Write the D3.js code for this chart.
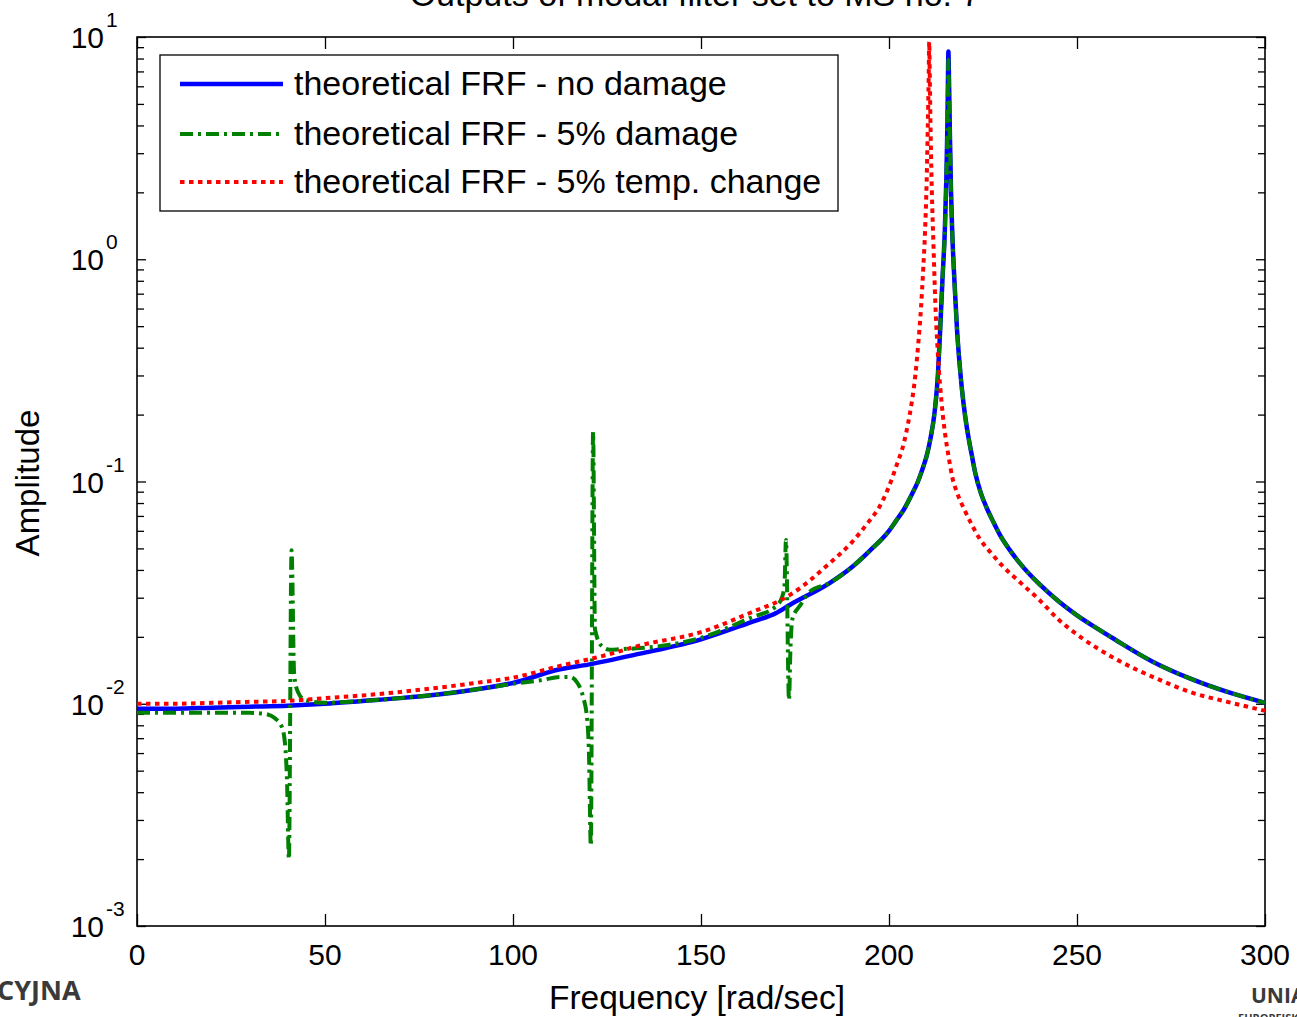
<!DOCTYPE html>
<html><head><meta charset="utf-8">
<script src="https://cdn.jsdelivr.net/npm/d3@7/dist/d3.min.js"></script>
<style>
html,body{margin:0;padding:0;background:#fff;}
svg{display:block;}
text{font-family:"Liberation Sans",Arial,sans-serif;fill:#000;}
</style></head>
<body>
<svg id="chart" width="1297" height="1017"></svg>
<script>
// ---- data ----
const titleText = "Outputs of modal filter set to MS no. 7";
const xLabelText = "Frequency [rad/sec]";
const yLabelText = "Amplitude";
const legendLabels = ["theoretical FRF - no damage", "theoretical FRF - 5% damage", "theoretical FRF - 5% temp. change"];
const xTickValues = [0, 50, 100, 150, 200, 250, 300];
const yDecadeExponents = [-3, -2, -1, 0, 1];

const blueFreq = [0,10,20,30,40,50,60,70,80,90,100,112.5,120,133.8,150,163,170,173.7,184.3,190,195,200,202,204,206,207.7,209,210,211,212.2,213,213.6,214.2,214.85,215.25,215.55,215.7,215.8,215.95,216.2,216.5,216.8,217.4,218.1,218.7,219.4,220.2,221,222,222.9,224.5,226,227.7,229.5,232,235,240,245,250,255,260,270,280,290,300];
const blueAmp  = [0.0095,0.0095,0.0096,0.0097,0.0098,0.0100,0.0103,0.0106,0.0110,0.0116,0.0124,0.0143,0.0150,0.0168,0.0195,0.0232,0.0256,0.0279,0.0350,0.041,0.049,0.060,0.067,0.075,0.087,0.100,0.115,0.130,0.155,0.21,0.30,0.48,0.80,1.35,2.3,4.2,6.8,8.6,6.5,3.6,2.0,1.35,0.80,0.48,0.35,0.26,0.20,0.163,0.132,0.110,0.088,0.076,0.066,0.0575,0.0495,0.0425,0.0345,0.0290,0.0250,0.0220,0.0195,0.0155,0.0130,0.0113,0.0101];

const greenFreq = [0,10,20,30,34,36.7,38.6,39.4,39.9,40.4,41.1,41.8,42.8,44.7,50,60,70,80,90,100,108,112.5,115.2,117,118.6,119.7,120.2,120.7,121.3,121.8,123.6,125.8,128.5,133.8,150,163,170,171.5,172.2,172.6,173.4,173.8,174.3,176.5,179,184.3,190,195,200,202,204,206,207.7,209,210,211,212.2,213,213.6,214.2,214.85,215.25,215.55,215.7,215.8,215.95,216.2,216.5,216.8,217.4,218.1,218.7,219.4,220.2,221,222,222.9,224.5,226,227.7,229.5,232,235,240,245,250,255,260,270,280,290,300];
const greenAmp  = [0.0091,0.0091,0.0091,0.0091,0.0090,0.0086,0.0078,0.0065,0.0045,0.0020,0.049,0.0135,0.0113,0.0104,0.0101,0.0103,0.0106,0.0110,0.0116,0.0123,0.0128,0.0132,0.0132,0.0125,0.0108,0.0086,0.0060,0.0023,0.167,0.0216,0.0182,0.0175,0.0176,0.0178,0.0198,0.0243,0.0275,0.0300,0.034,0.0546,0.0104,0.0180,0.0240,0.0279,0.032,0.035,0.041,0.049,0.060,0.067,0.075,0.087,0.100,0.115,0.130,0.155,0.21,0.30,0.48,0.80,1.35,2.3,4.0,6.3,7.9,6.0,3.5,2.0,1.35,0.80,0.48,0.35,0.26,0.20,0.163,0.132,0.110,0.088,0.076,0.066,0.0575,0.0495,0.0425,0.0345,0.0290,0.0250,0.0220,0.0195,0.0155,0.0130,0.0113,0.0101];

const redFreq = [0,10,20,30,40,50,60,70,80,90,100,112.5,125,133.8,150,163,173.7,184.3,190,194,198,200,202,204,205,206.1,207,207.8,208.5,209.1,209.6,210,210.3,210.55,210.7,210.85,211.1,211.4,211.8,212.3,212.9,213.6,214.3,215,216,216.8,218,220,222,224.2,227,230,235,240,245,250,260,272,280,290,300];
const redAmp  = [0.0100,0.0100,0.0101,0.0102,0.0103,0.0106,0.0109,0.0113,0.0118,0.0124,0.0131,0.0148,0.0166,0.0183,0.0210,0.0256,0.0309,0.0430,0.053,0.064,0.080,0.095,0.118,0.15,0.18,0.23,0.30,0.42,0.60,0.90,1.35,2.2,3.8,6.5,9.5,6.5,3.5,2.0,1.2,0.65,0.40,0.27,0.20,0.16,0.125,0.105,0.090,0.075,0.064,0.055,0.048,0.042,0.035,0.0293,0.024,0.0205,0.0160,0.0128,0.0113,0.0102,0.0093];

const seriesColors = ["#0000ff", "#008000", "#ff0000"];

// ---- chart ----
const svg = d3.select("#chart");
const L = 137, R = 1265, T = 37, B = 926;
const x = d3.scaleLinear().domain([0, 300]).range([L, R]);
const y = d3.scaleLog().domain([1e-3, 1e1]).range([B, T]);

svg.append("defs").append("clipPath").attr("id","plotclip")
  .append("rect").attr("x", L).attr("y", T - 2).attr("width", R - L).attr("height", B - T + 2);

// axes ticks (inward)
const xAxisB = d3.axisBottom(x).tickValues(xTickValues).tickSize(-12).tickFormat("");
const xAxisT = d3.axisTop(x).tickValues(xTickValues).tickSize(-12).tickFormat("");
const yTicks = y.ticks();
const yMajor = yTicks.filter(v => Math.abs(Math.log10(v) - Math.round(Math.log10(v))) < 1e-9);
const yMinor = yTicks.filter(v => !yMajor.includes(v));

function styleAxis(g){ g.select(".domain").remove(); g.selectAll("line").attr("stroke","#000").attr("stroke-width",1.3); }
svg.append("g").attr("transform",`translate(0,${B})`).call(xAxisB).call(styleAxis);
svg.append("g").attr("transform",`translate(0,${T})`).call(xAxisT).call(styleAxis);
svg.append("g").attr("transform",`translate(${L},0)`).call(d3.axisLeft(y).tickValues(yMajor).tickSize(-9).tickFormat("")).call(styleAxis);
svg.append("g").attr("transform",`translate(${L},0)`).call(d3.axisLeft(y).tickValues(yMinor).tickSize(-7).tickFormat("")).call(styleAxis);
svg.append("g").attr("transform",`translate(${R},0)`).call(d3.axisRight(y).tickValues(yMajor).tickSize(-9).tickFormat("")).call(styleAxis);
svg.append("g").attr("transform",`translate(${R},0)`).call(d3.axisRight(y).tickValues(yMinor).tickSize(-7).tickFormat("")).call(styleAxis);

// box
svg.append("rect").attr("x", L).attr("y", T).attr("width", R - L).attr("height", B - T)
  .attr("fill","none").attr("stroke","#000").attr("stroke-width",1.6);

// x tick labels
svg.append("g").selectAll("text").data(xTickValues).join("text")
  .attr("x", d => x(d)).attr("y", B + 39).attr("text-anchor","middle")
  .style("font-size","30px").text(d => d);

// y tick labels 10^k
const yl = svg.append("g").selectAll("g").data(yDecadeExponents).join("g");
yl.append("text").attr("x", 104).attr("y", d => y(Math.pow(10,d)) + 11).attr("text-anchor","end")
  .style("font-size","30px").text("10");
yl.append("text").attr("x", 106).attr("y", d => y(Math.pow(10,d)) - 10).attr("text-anchor","start")
  .style("font-size","21px").text(d => d);

// lines
const line = d3.line().x(d => x(d[0])).y(d => y(d[1])).curve(d3.curveMonotoneX);
const series = [
  {f: blueFreq, a: blueAmp, c: seriesColors[0], w: 4.5, dash: null},
  {f: greenFreq, a: greenAmp, c: seriesColors[1], w: 4, dash: "13,5,3,5"},
  {f: redFreq, a: redAmp, c: seriesColors[2], w: 4, dash: "4.5,4.5"}
];
const pg = svg.append("g").attr("clip-path","url(#plotclip)");
series.forEach(s => {
  pg.append("path").datum(s.f.map((v,i)=>[v, s.a[i]]))
    .attr("d", line).attr("fill","none").attr("stroke", s.c).attr("stroke-width", s.w)
    .attr("stroke-dasharray", s.dash).attr("stroke-linejoin","round");
});

// legend
const lg = svg.append("g");
lg.append("rect").attr("x",160).attr("y",55).attr("width",678).attr("height",156)
  .attr("fill","#fff").attr("stroke","#000").attr("stroke-width",1.3);
const legY = [84, 134, 182];
series.forEach((s,i) => {
  lg.append("line").attr("x1",180).attr("x2",283).attr("y1",legY[i]).attr("y2",legY[i])
    .attr("stroke", s.c).attr("stroke-width", s.w).attr("stroke-dasharray", s.dash);
  lg.append("text").attr("x",294).attr("y",legY[i]+11).style("font-size","34px").text(legendLabels[i]);
});

// titles
svg.append("text").attr("x",695).attr("y",6).attr("text-anchor","middle").style("font-size","34px").text(titleText);
svg.append("text").attr("x",697).attr("y",1009).attr("text-anchor","middle").style("font-size","33.5px").text(xLabelText);
svg.append("text").attr("transform","translate(39,483) rotate(-90)").attr("text-anchor","middle").style("font-size","33px").text(yLabelText);

// footer fragments (logos)
svg.append("text").attr("x",-3).attr("y",1000).style("font-family","'Open Sans',sans-serif").style("font-weight","bold")
  .style("font-size","27px").style("fill","#3a3a3a").text("CYJNA");
svg.append("text").attr("x",1251).attr("y",1003).style("font-family","'Open Sans',sans-serif").style("font-weight","bold")
  .style("font-size","21px").style("fill","#3a3a3a").text("UNIA");
svg.append("text").attr("x",1238).attr("y",1022).style("font-family","'Open Sans',sans-serif").style("font-weight","bold")
  .style("font-size","11px").style("fill","#3a3a3a").text("EUROPEJSKA");
</script>
</body></html>
